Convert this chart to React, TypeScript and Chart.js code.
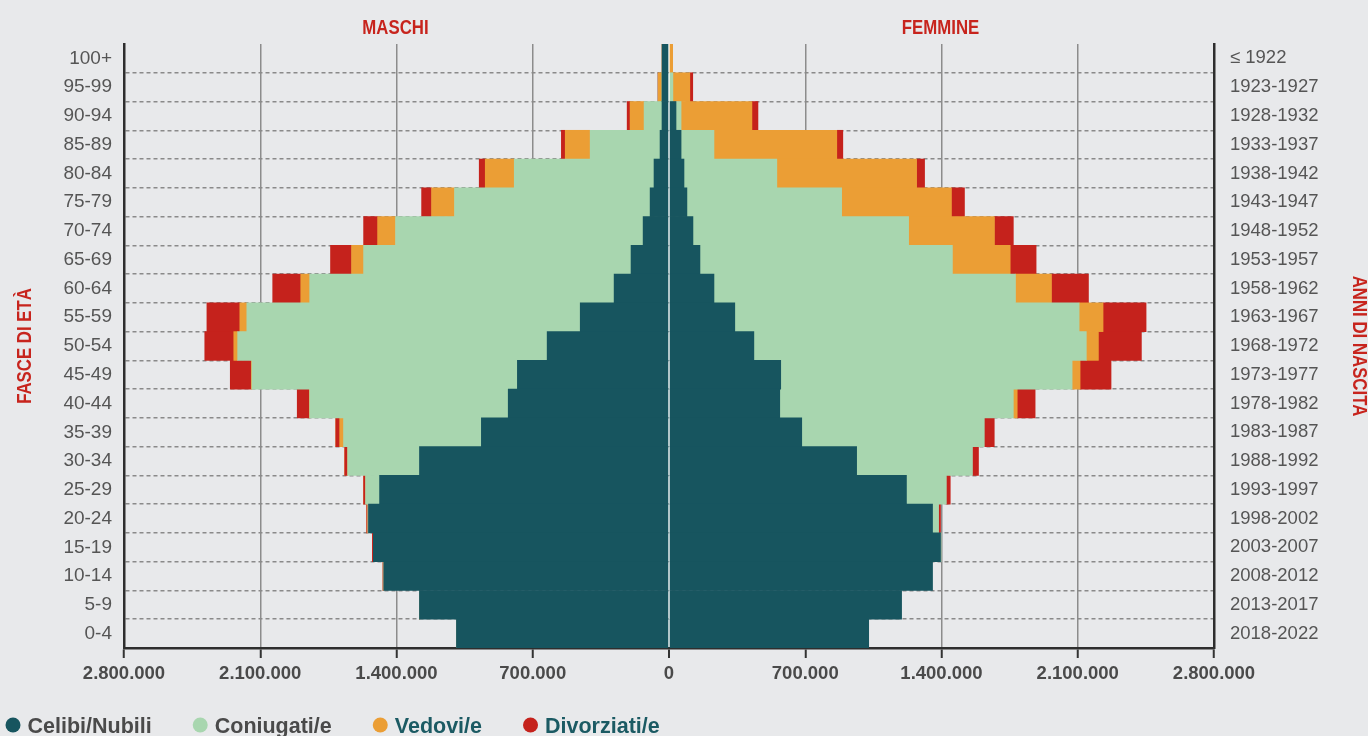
import React, { useEffect, useRef } from 'react';
import { Chart, registerables } from 'chart.js';

Chart.register(...registerables);

// ---------- DATA ----------
const ageGroups = [
  '100+', '95-99', '90-94', '85-89', '80-84', '75-79', '70-74', '65-69', '60-64', '55-59',
  '50-54', '45-49', '40-44', '35-39', '30-34', '25-29', '20-24', '15-19', '10-14', '5-9', '0-4',
];

const birthYears = [
  '≤ 1922', '1923-1927', '1928-1932', '1933-1937', '1938-1942', '1943-1947', '1948-1952',
  '1953-1957', '1958-1962', '1963-1967', '1968-1972', '1973-1977', '1978-1982', '1983-1987',
  '1988-1992', '1993-1997', '1998-2002', '2003-2007', '2008-2012', '2013-2017', '2018-2022',
];

// Maschi (males)
const maleSingle = [
  35000, 36000, 36000, 46000, 77000, 97000, 133000, 195000, 282000, 456000,
  626000, 779000, 826000, 964000, 1282000, 1487000, 1544000, 1519000, 1465000, 1282000, 1092000,
];
const maleMarried = [
  0, 0, 92000, 359000, 718000, 1005000, 1272000, 1374000, 1564000, 1713000,
  1590000, 1364000, 1020000, 708000, 369000, 72000, 3000, 0, 0, 0, 0,
];
const maleWidowed = [
  0, 20000, 72000, 128000, 149000, 118000, 92000, 62000, 46000, 36000,
  20000, 3000, 2000, 20000, 0, 0, 0, 0, 0, 0, 0,
];
const maleDivorced = [
  0, 0, 15000, 20000, 31000, 51000, 72000, 108000, 144000, 169000,
  149000, 108000, 62000, 20000, 15000, 10000, 6000, 5000, 4000, 0, 0,
];

// Femmine (females)
const femaleSingle = [
  0, 0, 36000, 62000, 77000, 92000, 123000, 159000, 231000, 338000,
  436000, 574000, 569000, 682000, 964000, 1220000, 1354000, 1395000, 1354000, 1195000, 1026000,
];
const femaleMarried = [
  0, 20000, 26000, 169000, 477000, 795000, 1108000, 1297000, 1549000, 1769000,
  1708000, 1497000, 1200000, 938000, 595000, 205000, 31000, 3000, 0, 0, 0,
];
const femaleWidowed = [
  19000, 87000, 364000, 631000, 718000, 564000, 441000, 297000, 185000, 123000,
  62000, 41000, 20000, 0, 0, 0, 0, 0, 0, 0, 0,
];
const femaleDivorced = [
  0, 15000, 31000, 31000, 41000, 67000, 97000, 133000, 190000, 221000,
  221000, 159000, 92000, 51000, 31000, 20000, 10000, 0, 0, 0, 0,
];

const statusLabels = ['Celibi/Nubili', 'Coniugati/e', 'Vedovi/e', 'Divorziati/e'];
const sideTitles = ['MASCHI', 'FEMMINE'];
const axisTitles = ['FASCE DI ETÀ', 'ANNI DI NASCITA'];

// ---------- STYLE ----------
const FONT = '"Liberation Sans", Arial, Helvetica, sans-serif';
const statusColors = ['#17555f', '#a8d6af', '#eb9e35', '#c5221c'];
const legendTextColors = ['#4a4a4a', '#4a4a4a', '#1b5a63', '#1b5a63'];
const RED = '#c7241d';
const BG = '#e8e9eb';

const fmt = (n: number) => String(Math.round(Math.abs(n))).replace(/\B(?=(\d{3})+(?!\d))/g, '.');

const decorPlugin = {
  id: 'decor',
  afterDraw(chart: any) {
    const { ctx, chartArea } = chart;
    const zero = chart.scales.x.getPixelForValue(0);
    const cond = (text: string, x: number, y: number, rot: number, sx: number, baseline: CanvasTextBaseline) => {
      ctx.save();
      ctx.translate(x, y);
      ctx.rotate(rot);
      ctx.scale(sx, 1);
      ctx.textAlign = 'center';
      ctx.textBaseline = baseline;
      ctx.fillText(text, 0, 0);
      ctx.restore();
    };
    ctx.save();
    ctx.fillStyle = RED;
    ctx.font = `bold 21px ${FONT}`;
    cond(sideTitles[0], (chartArea.left + zero) / 2 - 1, 33.5, 0, 0.8, 'alphabetic');
    cond(sideTitles[1], (zero + chartArea.right) / 2 - 1, 33.5, 0, 0.8, 'alphabetic');
    const midY = (chartArea.top + chartArea.bottom) / 2;
    cond(axisTitles[0], 25.5, midY, -Math.PI / 2, 0.8, 'middle');
    cond(axisTitles[1], 1358.5, midY, Math.PI / 2, 0.8, 'middle');

    // legend
    ctx.font = `bold 21.5px ${FONT}`;
    ctx.textAlign = 'left';
    ctx.textBaseline = 'alphabetic';
    let x = 5.5;
    const cy = 725;
    statusLabels.forEach((label, i) => {
      ctx.fillStyle = statusColors[i];
      ctx.beginPath();
      ctx.arc(x + 7.5, cy, 7.5, 0, Math.PI * 2);
      ctx.fill();
      ctx.fillStyle = legendTextColors[i];
      ctx.fillText(label, x + 22, cy + 8);
      x += 22 + ctx.measureText(label).width + 41;
    });
    ctx.restore();
  },
};

export default function App() {
  const canvasRef = useRef<HTMLCanvasElement | null>(null);

  useEffect(() => {
    if (!canvasRef.current) return;
    const maleSeries = [maleSingle, maleMarried, maleWidowed, maleDivorced];
    const femaleSeries = [femaleSingle, femaleMarried, femaleWidowed, femaleDivorced];
    const datasets: any[] = [];
    maleSeries.forEach((arr, i) => {
      datasets.push({
        label: statusLabels[i] + ' (M)',
        data: arr.map((v) => -v),
        backgroundColor: statusColors[i],
        borderWidth: 0,
        barPercentage: 1,
        categoryPercentage: 1,
      });
    });
    femaleSeries.forEach((arr, i) => {
      datasets.push({
        label: statusLabels[i] + ' (F)',
        data: arr.slice(),
        backgroundColor: statusColors[i],
        borderWidth: 0,
        barPercentage: 1,
        categoryPercentage: 1,
      });
    });

    const chart = new Chart(canvasRef.current, {
      type: 'bar',
      data: { labels: ageGroups, datasets },
      plugins: [decorPlugin],
      options: {
        indexAxis: 'y',
        animation: false,
        responsive: true,
        maintainAspectRatio: false,
        events: [],
        layout: { padding: { top: 44, bottom: 38, left: 0, right: 0 } },
        plugins: {
          legend: { display: false },
          tooltip: { enabled: false },
          title: { display: false },
        },
        scales: {
          x: {
            type: 'linear',
            position: 'bottom',
            stacked: true,
            min: -2800000,
            max: 2800000,
            z: 1,
            afterFit: (s: any) => { s.height = 50; },
            ticks: {
              stepSize: 700000,
              padding: 5,
              color: '#4a4a4a',
              font: { family: FONT, size: 18.5, weight: 'bold' },
              callback: (v: any) => fmt(Number(v)),
            },
            grid: {
              drawTicks: true,
              tickLength: 10,
              tickWidth: 2,
              tickColor: '#333333',
              color: (c: any) => {
                const v = c.tick ? c.tick.value : null;
                if (v === 0) return '#ffffff';
                if (v !== null && Math.abs(v) >= 2800000) return 'rgba(0,0,0,0)';
                return '#8c8c8c';
              },
              lineWidth: (c: any) => (c.tick && c.tick.value === 0 ? 2 : 1.5),
            },
            border: { display: true, color: '#2e2e2e', width: 2.5 },
          },
          y: {
            type: 'category',
            position: 'left',
            stacked: true,
            offset: true,
            z: 1,
            afterFit: (s: any) => { s.width = 124; },
            ticks: {
              padding: 12,
              color: '#555555',
              font: { family: FONT, size: 19 },
            },
            grid: {
              offset: true,
              drawTicks: false,
              color: (c: any) => (c.type === 'tick' && c.index === 0 ? 'rgba(0,0,0,0)' : '#8a8a8a'),
              lineWidth: 1.5,
            },
            border: { display: true, color: '#2e2e2e', width: 2.5, dash: [4, 3] },
          },
          y2: {
            type: 'category',
            position: 'right',
            labels: birthYears,
            offset: true,
            afterFit: (s: any) => { s.width = 154; },
            ticks: {
              padding: 16,
              color: '#555555',
              font: { family: FONT, size: 18.5 },
            },
            grid: { display: false, drawTicks: false },
            border: { display: true, color: '#2e2e2e', width: 2.5 },
          },
        },
      } as any,
    });
    return () => chart.destroy();
  }, []);

  return (
    <div
      style={{
        position: 'fixed',
        left: 0,
        top: 0,
        width: 1368,
        height: 736,
        background: BG,
      }}
    >
      <canvas ref={canvasRef} />
    </div>
  );
}
